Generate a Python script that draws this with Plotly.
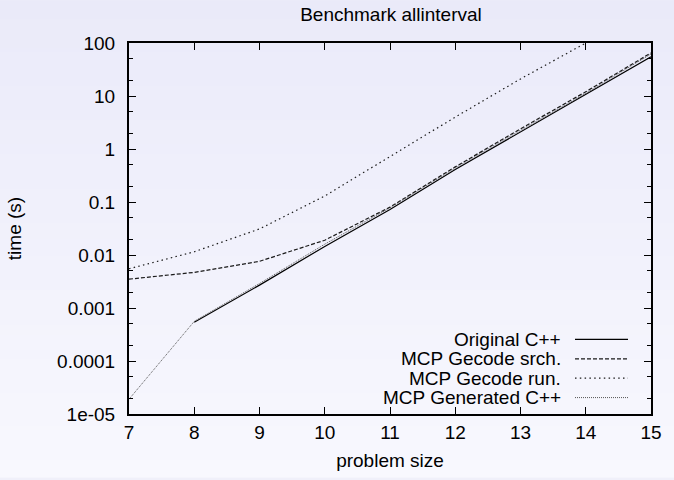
import base64
import struct
import zlib

import plotly.graph_objects as go

sizes = [7, 8, 9, 10, 11, 12, 13, 14, 15]
orig_sizes = [8, 9, 10, 11, 12, 13, 14, 15]
original_cpp = [0.00054, 0.0027, 0.0145, 0.072, 0.41, 2.1, 10.5, 55]
gecode_srch = [0.0035, 0.0047, 0.0076, 0.019, 0.08, 0.46, 2.4, 12, 65]
gecode_run = [0.0055, 0.0115, 0.031, 0.13, 0.72, 4.0, 21, 100, 520]
generated_cpp = [0.000019, 0.00056, 0.0029, 0.016, 0.078, 0.44, 2.25, 11.3, 62]

ytick_vals = [1e-5, 1e-4, 1e-3, 1e-2, 1e-1, 1, 10, 100]
ytick_text = ["1e-05", "0.0001", "0.001", "0.01", "0.1", "1", "10", "100"]
ytick_minor = [m * d for d in [1e-5, 1e-4, 1e-3, 1e-2, 1e-1, 1, 10] for m in (2, 5)]
xtick_vals = [7, 8, 9, 10, 11, 12, 13, 14, 15]

series = [
    ("Original C++", orig_sizes, original_cpp, dict(color="black", width=1.2, dash="solid")),
    ("MCP Gecode srch.", sizes, gecode_srch, dict(color="#1a1a1a", width=1.2, dash="4px,2px")),
    ("MCP Gecode run.", sizes, gecode_run, dict(color="#1a1a1a", width=1.2, dash="1.5px,3.3px")),
    ("MCP Generated C++", sizes, generated_cpp, dict(color="#555555", width=1.0, dash="1px,1px")),
]

W, H = 674, 480
L, R, T, B = 129, 651, 43, 416
FONT = "Liberation Sans, Arial, Helvetica, sans-serif"


def gradient_png(h, top, bottom):
    rows = b""
    for i in range(h):
        t = i / (h - 1)
        c = bytes(int(round(a + (b - a) * t)) for a, b in zip(top, bottom))
        rows += b"\x00" + c
    def chunk(tag, data):
        return struct.pack(">I", len(data)) + tag + data + struct.pack(">I", zlib.crc32(tag + data) & 0xffffffff)
    png = b"\x89PNG\r\n\x1a\n" + chunk(b"IHDR", struct.pack(">IIBBBBB", 1, h, 8, 2, 0, 0, 0))
    png += chunk(b"IDAT", zlib.compress(rows)) + chunk(b"IEND", b"")
    return "data:image/png;base64," + base64.b64encode(png).decode()


fig = go.Figure()
for name, xs, ys, ln in series:
    fig.add_trace(go.Scatter(x=xs, y=ys, mode="lines", name=name, line=ln,
                             showlegend=False))

# gnuplot-style key: right-aligned text, sample line on its right
ys_leg = [341, 360.5, 380, 399.5]
for (name, xs, ys, ln), yp in zip(series, ys_leg):
    py = 1 - (yp - T) / (B - T)
    fig.add_annotation(x=(563 - L) / (R - L), y=py, xref="paper", yref="paper",
                       text=name, showarrow=False, xanchor="right", yanchor="middle",
                       font=dict(size=19, color="black", family=FONT))
    fig.add_shape(type="line", xref="paper", yref="paper",
                  x0=(575 - L) / (R - L), x1=(628 - L) / (R - L), y0=py, y1=py,
                  line=ln)

fig.add_layout_image(
    source=gradient_png(H, (234, 234, 249), (248, 248, 254)),
    xref="paper", yref="paper",
    x=-L / (R - L), y=1 + T / (B - T),
    sizex=W / (R - L), sizey=H / (B - T),
    sizing="stretch", xanchor="left", yanchor="top", layer="below",
)

fig.update_layout(
    width=W, height=H,
    margin=dict(l=L, r=W - R, t=T, b=H - B),
    paper_bgcolor="#f0f0fa",
    plot_bgcolor="rgba(0,0,0,0)",
    font=dict(family=FONT, size=19, color="black"),
    title=dict(text="Benchmark allinterval", x=391 / W, xanchor="center",
               y=1 - 14 / H, yanchor="middle", font=dict(size=19)),
    showlegend=False,
)
fig.update_xaxes(
    range=[7, 15], tickvals=xtick_vals, ticks="inside", ticklen=7, tickwidth=1,
    tickcolor="black", mirror="ticks", showline=True, linecolor="black", linewidth=2,
    showgrid=False, zeroline=False,
    title=dict(text="problem size", standoff=12, font=dict(size=19)),
)
fig.update_yaxes(
    type="log", range=[-5, 2], tickvals=ytick_vals, ticktext=ytick_text,
    ticks="inside", ticklen=7, tickwidth=1, tickcolor="black", mirror="ticks",
    showline=True, linecolor="black", linewidth=2, showgrid=False, zeroline=False,
    ticklabelstandoff=8,
    minor=dict(tickmode="array", tickvals=ytick_minor, ticks="inside", ticklen=4,
               tickcolor="black", showgrid=False),
    title=dict(text="time (s)", standoff=30, font=dict(size=19)),
)
fig.write_html("out.html")
